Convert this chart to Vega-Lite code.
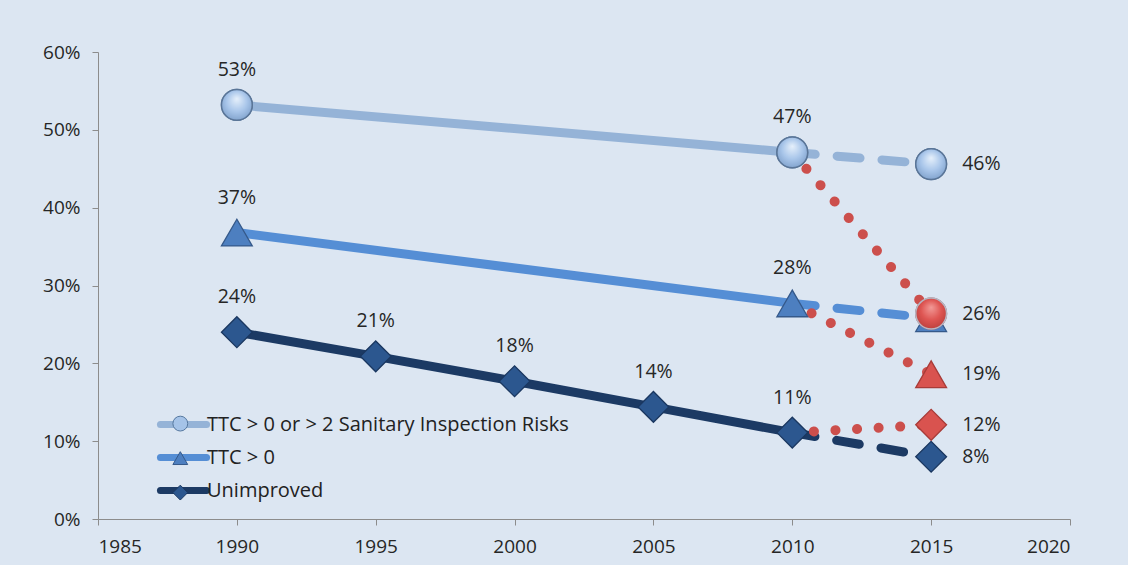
{
  "$schema": "https://vega.github.io/schema/vega-lite/v6.json",
  "width": 972,
  "height": 467,
  "autosize": {"type": "none"},
  "padding": {"left": 98, "top": 52, "right": 58, "bottom": 46},
  "background": "#dce6f2",
  "config": {
    "view": {"stroke": null},
    "axis": {"labelFont": "Open Sans", "labelFontSize": 19, "labelColor": "#262626", "domainColor": "#8c8c8c", "tickColor": "#8c8c8c", "grid": false, "title": null, "tickSize": 6}
  },
  "data": {"values": [
    {"series": "TTC > 0 or > 2 Sanitary Inspection Risks", "year": 1990, "value": 0.532, "estimate": "trend"},
    {"series": "TTC > 0 or > 2 Sanitary Inspection Risks", "year": 2010, "value": 0.471, "estimate": "trend"},
    {"series": "TTC > 0 or > 2 Sanitary Inspection Risks", "year": 2015, "value": 0.456, "estimate": "trend"},
    {"series": "TTC > 0", "year": 1990, "value": 0.368, "estimate": "trend"},
    {"series": "TTC > 0", "year": 2010, "value": 0.277, "estimate": "trend"},
    {"series": "TTC > 0", "year": 2015, "value": 0.258, "estimate": "trend"},
    {"series": "Unimproved", "year": 1990, "value": 0.240, "estimate": "trend"},
    {"series": "Unimproved", "year": 1995, "value": 0.209, "estimate": "trend"},
    {"series": "Unimproved", "year": 2000, "value": 0.177, "estimate": "trend"},
    {"series": "Unimproved", "year": 2005, "value": 0.144, "estimate": "trend"},
    {"series": "Unimproved", "year": 2010, "value": 0.111, "estimate": "trend"},
    {"series": "Unimproved", "year": 2015, "value": 0.080, "estimate": "trend"},
    {"series": "TTC > 0 or > 2 Sanitary Inspection Risks", "year": 2010, "value": 0.471, "estimate": "alternative"},
    {"series": "TTC > 0 or > 2 Sanitary Inspection Risks", "year": 2015, "value": 0.264, "estimate": "alternative"},
    {"series": "TTC > 0", "year": 2010, "value": 0.277, "estimate": "alternative"},
    {"series": "TTC > 0", "year": 2015, "value": 0.186, "estimate": "alternative"},
    {"series": "Unimproved", "year": 2010, "value": 0.111, "estimate": "alternative"},
    {"series": "Unimproved", "year": 2015, "value": 0.121, "estimate": "alternative"}
  ]},
  "encoding": {
    "x": {"field": "year", "type": "quantitative", "scale": {"domain": [1985, 2020], "nice": false, "zero": false},
      "axis": {"values": [1985, 1990, 1995, 2000, 2005, 2010, 2015, 2020], "format": "d", "labelPadding": 12}},
    "y": {"field": "value", "type": "quantitative", "scale": {"domain": [0, 0.6], "nice": false},
      "axis": {"values": [0, 0.1, 0.2, 0.3, 0.4, 0.5, 0.6], "format": ".0%", "labelPadding": 12}}
  },
  "layer": [
    {
      "transform": [{"filter": "datum.estimate == 'trend' && datum.year <= 2010"}],
      "mark": {"type": "line", "strokeWidth": 9, "strokeCap": "round"},
      "encoding": {
        "color": {"field": "series", "type": "nominal",
          "sort": ["TTC > 0 or > 2 Sanitary Inspection Risks", "TTC > 0", "Unimproved"],
          "scale": {"range": ["#95b3d7", "#558ed5", "#1c3a64"]},
          "legend": {"orient": "none", "legendX": 74, "legendY": 361, "title": null, "symbolType": "M-3,0H3", "symbolSize": 236, "symbolStrokeWidth": 7, "labelOffset": 12, "labelFont": "Open Sans", "labelFontSize": 20, "labelLimit": 600, "labelColor": "#222222", "rowPadding": 4, "padding": 0, "zindex": 1,
            "encode": {"symbols": {"update": {"strokeCap": {"value": "round"}}}}}
        }
      }
    },
    {
      "transform": [{"filter": "datum.estimate == 'trend' && datum.year >= 2010"}],
      "mark": {"type": "line", "strokeWidth": 9, "strokeCap": "round", "strokeDash": [23, 22]},
      "encoding": {
        "color": {"field": "series", "type": "nominal",
          "sort": ["TTC > 0 or > 2 Sanitary Inspection Risks", "TTC > 0", "Unimproved"], "legend": null}
      }
    },
    {
      "transform": [{"filter": "datum.estimate == 'alternative'"}],
      "mark": {"type": "line", "strokeWidth": 10, "strokeCap": "round", "strokeDash": [0.1, 21.5], "color": "#cc4f4c"},
      "encoding": {"detail": {"field": "series", "type": "nominal"}}
    },
    {
      "transform": [{"filter": "datum.estimate == 'trend'"}],
      "mark": {"type": "point", "filled": true, "opacity": 1, "size": 950, "strokeWidth": 1.3},
      "encoding": {
        "shape": {"field": "series", "type": "nominal",
          "scale": {"domain": ["TTC > 0 or > 2 Sanitary Inspection Risks", "TTC > 0", "Unimproved"], "range": ["circle", "triangle-up", "diamond"]},
          "legend": {"orient": "none", "legendX": 74.3, "legendY": 363.6, "title": null, "symbolSize": 220, "labelExpr": "''", "labelOffset": 0, "rowPadding": 15.5, "padding": 0, "zindex": 2, "symbolStrokeWidth": 1, "symbolOpacity": 1}},
        "fill": {"field": "series", "type": "nominal",
          "scale": {"domain": ["TTC > 0 or > 2 Sanitary Inspection Risks", "TTC > 0", "Unimproved"], "range": ["#a5c3e8", "#4d7fc0", "#2c578f"]},
          "legend": {"orient": "none", "legendX": 74.3, "legendY": 363.6, "title": null, "symbolSize": 220, "labelExpr": "''", "labelOffset": 0, "rowPadding": 15.5, "padding": 0, "zindex": 2, "symbolStrokeWidth": 1, "symbolOpacity": 1}},
        "stroke": {"field": "series", "type": "nominal",
          "scale": {"domain": ["TTC > 0 or > 2 Sanitary Inspection Risks", "TTC > 0", "Unimproved"], "range": ["#56789f", "#35598a", "#1a3760"]},
          "legend": {"orient": "none", "legendX": 74.3, "legendY": 363.6, "title": null, "symbolSize": 220, "labelExpr": "''", "labelOffset": 0, "rowPadding": 15.5, "padding": 0, "zindex": 2, "symbolStrokeWidth": 1, "symbolOpacity": 1}}
      }
    },
    {
      "transform": [{"filter": "datum.estimate == 'trend' && datum.series == 'TTC > 0 or > 2 Sanitary Inspection Risks'"}],
      "mark": {"type": "point", "shape": "circle", "filled": true, "opacity": 1, "size": 950, "strokeWidth": 1.5, "stroke": "#5a7597",
        "fill": {"gradient": "radial", "x1": 0.5, "y1": 0.3, "r1": 0, "x2": 0.5, "y2": 0.45, "r2": 0.6,
          "stops": [{"offset": 0, "color": "#e6f0fb"}, {"offset": 0.55, "color": "#a9c6ea"}, {"offset": 1, "color": "#7d9fca"}]}},
      "encoding": {}
    },
    {
      "transform": [{"filter": "datum.estimate == 'alternative' && datum.year == 2015"}],
      "mark": {"type": "point", "filled": true, "opacity": 1, "size": 950, "strokeWidth": 1.3, "fill": "#d9534f", "stroke": "#a83b38"},
      "encoding": {
        "shape": {"field": "series", "type": "nominal", "legend": null}
      }
    },
    {
      "transform": [{"filter": "datum.estimate == 'alternative' && datum.year == 2015 && datum.series == 'TTC > 0 or > 2 Sanitary Inspection Risks'"}],
      "mark": {"type": "point", "shape": "circle", "filled": true, "opacity": 1, "size": 950, "strokeWidth": 1.5, "stroke": "#b7b7c4",
        "fill": {"gradient": "radial", "x1": 0.5, "y1": 0.3, "r1": 0, "x2": 0.5, "y2": 0.45, "r2": 0.6,
          "stops": [{"offset": 0, "color": "#f29a97"}, {"offset": 0.55, "color": "#de5552"}, {"offset": 1, "color": "#b93e3b"}]}},
      "encoding": {}
    },
    {
      "transform": [{"filter": "datum.estimate == 'trend' && datum.year < 2015"}],
      "mark": {"type": "text", "font": "Open Sans", "fontSize": 19.5, "color": "#262626", "baseline": "middle", "align": "center", "dy": -35},
      "encoding": {"text": {"field": "value", "type": "quantitative", "format": ".0%"}}
    },
    {
      "transform": [{"filter": "datum.year == 2015 && !(datum.series == 'TTC > 0' && datum.estimate == 'trend')"}],
      "mark": {"type": "text", "font": "Open Sans", "fontSize": 19.5, "color": "#262626", "baseline": "middle", "align": "left", "dx": 31},
      "encoding": {"text": {"field": "value", "type": "quantitative", "format": ".0%"}}
    }
  ]
}
